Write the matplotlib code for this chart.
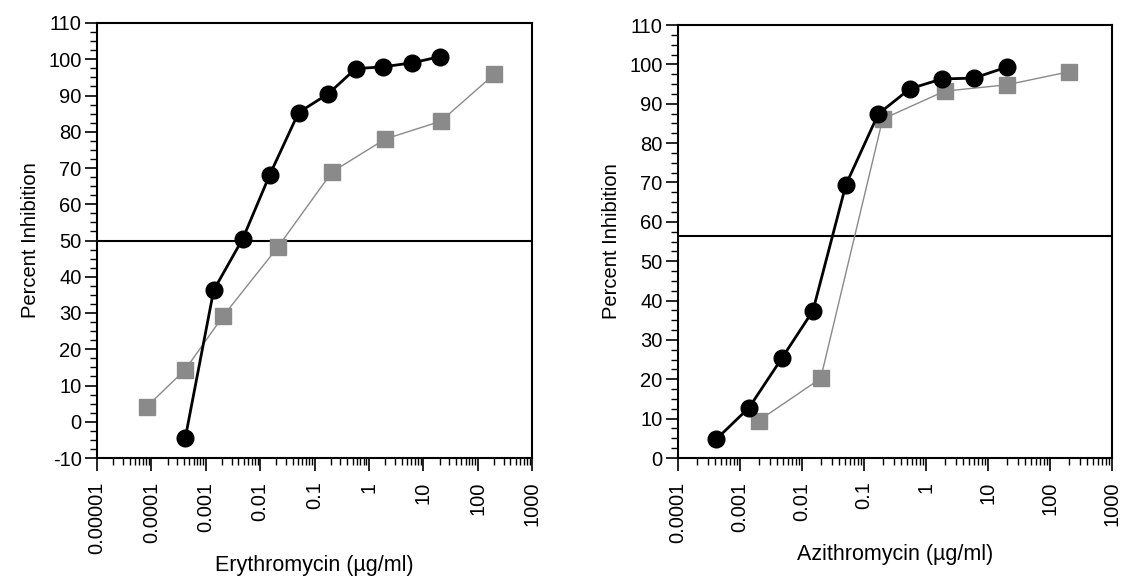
import numpy as np
import matplotlib
matplotlib.use("Agg")
import matplotlib.pyplot as plt
from matplotlib.ticker import LogLocator, FixedLocator, MultipleLocator, NullFormatter

plt.rcParams['font.family'] = ['Liberation Sans', 'DejaVu Sans']
plt.rcParams['axes.unicode_minus'] = False

# Erythromycin panel
ery_circ_x = [0.00042, 0.0014, 0.0048, 0.015, 0.051, 0.18, 0.57, 1.8, 6.2, 20]
ery_circ_y = [-4.5, 36.3, 50.5, 68.1, 85.3, 90.5, 97.4, 97.9, 99.0, 100.7]
ery_sq_x = [0.000083, 0.00042, 0.0021, 0.021, 0.21, 2.0, 21, 200]
ery_sq_y = [4.2, 14.4, 29.2, 48.1, 68.9, 78.0, 82.9, 95.8]
ery_ref = 50

# Azithromycin panel
azi_circ_x = [0.00041, 0.0014, 0.0048, 0.015, 0.051, 0.17, 0.55, 1.8, 5.9, 20]
azi_circ_y = [4.7, 12.8, 25.5, 37.4, 69.4, 87.4, 93.8, 96.3, 96.5, 99.3]
azi_sq_x = [0.002, 0.02, 0.2, 2.0, 20, 200]
azi_sq_y = [9.5, 20.2, 86.1, 93.2, 94.8, 98.1]
azi_ref = 56.5

ery_ticks = [1e-5, 1e-4, 1e-3, 1e-2, 1e-1, 1, 10, 100, 1000]
ery_labels = ['0.00001', '0.0001', '0.001', '0.01', '0.1', '1', '10', '100', '1000']
azi_ticks = ery_ticks[1:]
azi_labels = ery_labels[1:]

fig = plt.figure(figsize=(11.22, 5.84), dpi=100)
ax1 = fig.add_axes([97 / 1122, 1 - 458 / 584, 435 / 1122, 435 / 584])
ax2 = fig.add_axes([678 / 1122, 1 - 458 / 584, 434 / 1122, 433 / 584])

grey = '#8a8a8a'


def draw(ax, cx, cy, sx, sy, ref, ticks, labels, ymin, xlabel):
    ax.plot(sx, sy, color=grey, lw=1.0, marker='s', ms=11, mfc=grey, mec=grey, zorder=3)
    ax.plot(cx, cy, color='black', lw=2.0, marker='o', ms=12, mfc='black', mec='black', zorder=4)
    ax.axhline(ref, color='black', lw=1.5, zorder=2)
    ax.set_xscale('log')
    ax.set_xlim(ticks[0], ticks[-1])
    ax.set_ylim(ymin, 110)
    ax.xaxis.set_major_locator(FixedLocator(ticks))
    ax.set_xticklabels(labels, rotation=90)
    ax.xaxis.set_minor_locator(LogLocator(base=10, subs=np.arange(2, 10), numticks=20))
    ax.xaxis.set_minor_formatter(NullFormatter())
    ax.yaxis.set_major_locator(MultipleLocator(10))
    ax.yaxis.set_minor_locator(MultipleLocator(2.5))
    ax.tick_params(which='major', direction='out', length=9, width=1.2, labelsize=14.5, color='black')
    ax.tick_params(which='minor', direction='out', length=5, width=1.0, color='black')
    ax.tick_params(axis='x', which='major', pad=8)
    ax.tick_params(axis='y', which='major', pad=2)
    for s in ax.spines.values():
        s.set_linewidth(1.5)
    ax.set_ylabel('Percent Inhibition', fontsize=14.5, labelpad=6)
    ax.set_xlabel(xlabel, fontsize=15.5, labelpad=1)


draw(ax1, ery_circ_x, ery_circ_y, ery_sq_x, ery_sq_y, ery_ref,
     ery_ticks, ery_labels, -10, 'Erythromycin (µg/ml)')
draw(ax2, azi_circ_x, azi_circ_y, azi_sq_x, azi_sq_y, azi_ref,
     azi_ticks, azi_labels, 0, 'Azithromycin (µg/ml)')

fig.savefig('out.png', dpi=100)
